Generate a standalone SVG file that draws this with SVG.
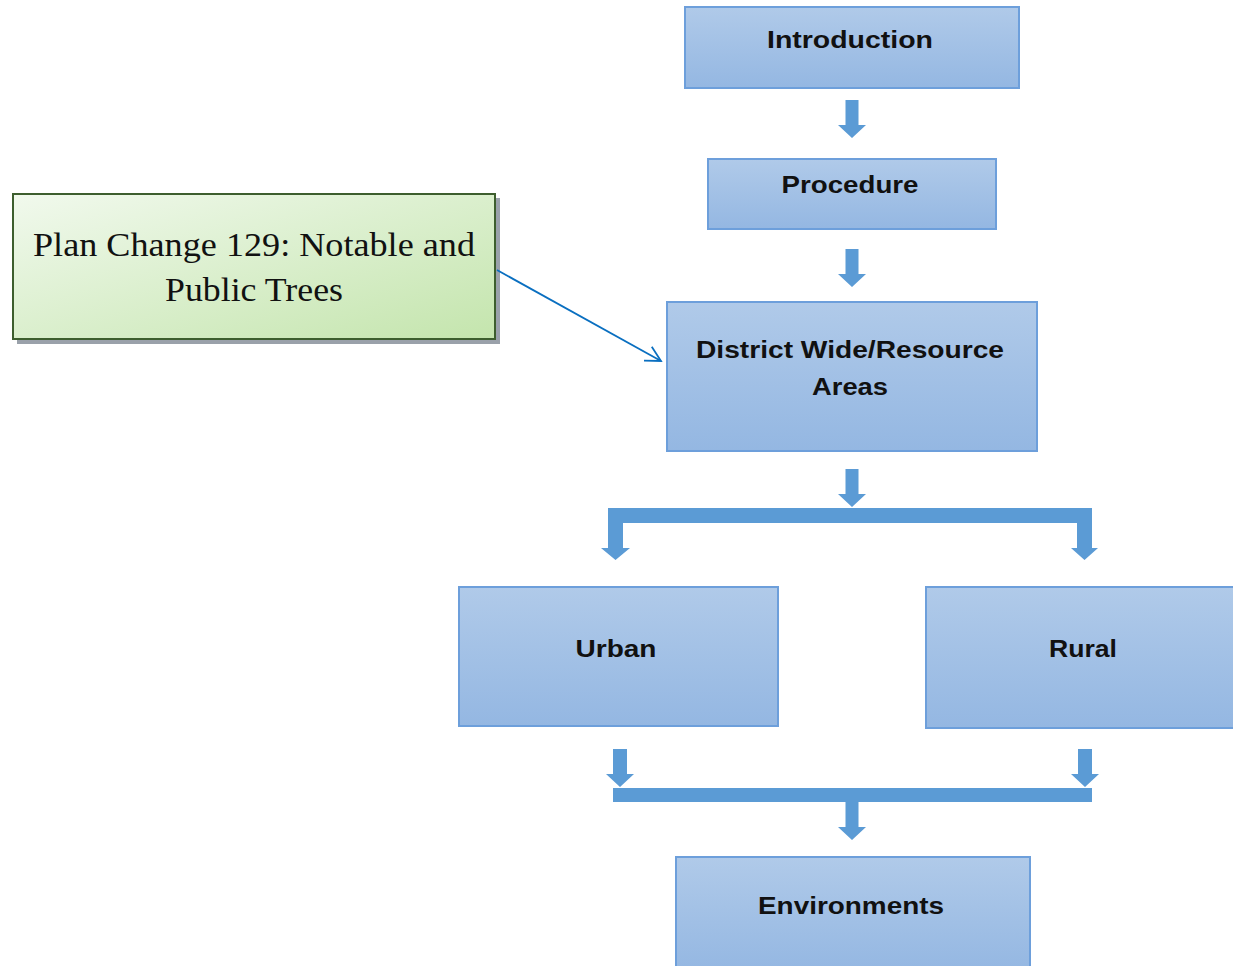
<svg xmlns="http://www.w3.org/2000/svg" width="1233" height="966" viewBox="0 0 1233 966">
<defs>
<linearGradient id="blue" x1="0" y1="0" x2="0" y2="1">
<stop offset="0" stop-color="#b0cae9"/>
<stop offset="1" stop-color="#94b7e2"/>
</linearGradient>
<linearGradient id="green" x1="0" y1="0" x2="1" y2="1">
<stop offset="0" stop-color="#f1f9ed"/>
<stop offset="1" stop-color="#c4e5ad"/>
</linearGradient>
<marker id="open" markerWidth="20" markerHeight="20" refX="17" refY="10" orient="auto" markerUnits="userSpaceOnUse">
<path d="M2,2 L17,10 L2,18" fill="none" stroke="#0a6fc0" stroke-width="1.8"/>
</marker>
</defs>
<style>
.box{fill:url(#blue);stroke:#6d9fdb;stroke-width:2}
.lbl{font-family:"Liberation Sans",Arial,sans-serif;font-weight:bold;font-size:23px;fill:#111;text-anchor:middle}
.ser{font-family:"Liberation Serif","Times New Roman",serif;font-size:34px;fill:#111;text-anchor:middle}
.blk{fill:#5b9bd5}
</style>
<rect width="1233" height="966" fill="#fff"/>

<g id="note">
<rect x="17" y="198" width="483" height="146" fill="#9aa1aa"/>
<rect x="13" y="194" width="482" height="145" fill="url(#green)" stroke="#3d5e2e" stroke-width="2"/>
<text class="ser" x="254" y="256" textLength="442" lengthAdjust="spacingAndGlyphs">Plan Change 129: Notable and</text>
<text class="ser" x="254" y="301" textLength="178" lengthAdjust="spacingAndGlyphs">Public Trees</text>
</g>

<g id="introduction">
<rect class="box" x="685" y="7" width="334" height="81"/>
<text class="lbl" x="850" y="48" textLength="166" lengthAdjust="spacingAndGlyphs">Introduction</text>
</g>
<g id="procedure">
<rect class="box" x="708" y="159" width="288" height="70"/>
<text class="lbl" x="850" y="193" textLength="137" lengthAdjust="spacingAndGlyphs">Procedure</text>
</g>
<g id="district">
<rect class="box" x="667" y="302" width="370" height="149"/>
<text class="lbl" x="850" y="358" textLength="308" lengthAdjust="spacingAndGlyphs">District Wide/Resource</text>
<text class="lbl" x="850" y="395" textLength="76" lengthAdjust="spacingAndGlyphs">Areas</text>
</g>
<g id="urban">
<rect class="box" x="459" y="587" width="319" height="139"/>
<text class="lbl" x="616" y="657" textLength="81" lengthAdjust="spacingAndGlyphs">Urban</text>
</g>
<g id="rural">
<rect class="box" x="926" y="587" width="312" height="141"/>
<text class="lbl" x="1083" y="657" textLength="68" lengthAdjust="spacingAndGlyphs">Rural</text>
</g>
<g id="environments">
<rect class="box" x="676" y="857" width="354" height="115"/>
<text class="lbl" x="851" y="914" textLength="186" lengthAdjust="spacingAndGlyphs">Environments</text>
</g>

<g id="connectors">
<line x1="497" y1="270" x2="661" y2="361" stroke="#0a6fc0" stroke-width="1.8" marker-end="url(#open)"/>
<polygon class="blk" points="845.5,100 858.5,100 858.5,125 866,125 852,138 838,125 845.5,125"/>
<polygon class="blk" points="845.5,249 858.5,249 858.5,274 866,274 852,287 838,274 845.5,274"/>
<polygon class="blk" points="845.5,469 858.5,469 858.5,494 866,494 852,507 838,494 845.5,494"/>
<polygon class="blk" points="608,508 1092,508 1092,548 1098,548 1084.5,560 1071,548 1077,548 1077,523 623,523 623,548 630,548 615.5,560 601,548 608,548"/>
<polygon class="blk" points="613,749 627,749 627,774 634,774 620,787 606,774 613,774"/>
<polygon class="blk" points="1078,749 1092,749 1092,774 1099,774 1085,787 1071,774 1078,774"/>
<rect class="blk" x="613" y="788" width="479" height="14"/>
<polygon class="blk" points="845.5,802 858.5,802 858.5,827 866,827 852,840 838,827 845.5,827"/>
</g>
</svg>
